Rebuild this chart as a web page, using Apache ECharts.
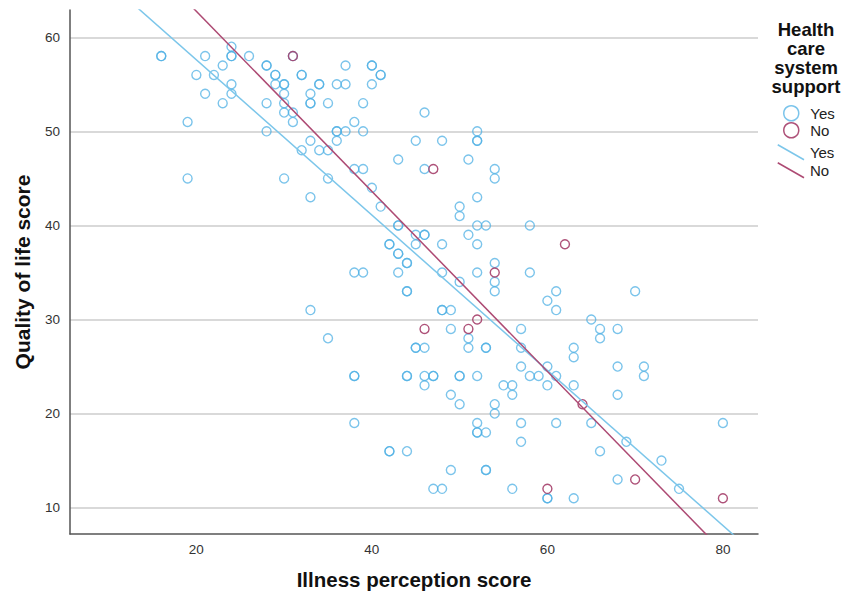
<!DOCTYPE html>
<html><head><meta charset="utf-8">
<script src="https://cdn.jsdelivr.net/npm/echarts@6/dist/echarts.min.js"></script>
<style>html,body{margin:0;padding:0;background:#fff}#c{width:849px;height:595px}</style>
</head><body><div id="c"></div>
<script>
// Illness perception score (x) vs Quality of life score (y)
const yesPoints = [
 [24,59],
 [16,58],[16,58],[21,58],[24,58],[24,58],[26,58],[31,58],
 [23,57],[28,57],[28,57],[37,57],[40,57],[40,57],
 [20,56],[22,56],[29,56],[29,56],[32,56],[32,56],[41,56],[41,56],
 [24,55],[29,55],[30,55],[30,55],[34,55],[34,55],[36,55],[37,55],[40,55],
 [21,54],[24,54],[30,54],[33,54],
 [23,53],[28,53],[30,53],[33,53],[33,53],[35,53],[39,53],
 [30,52],[31,52],[46,52],
 [19,51],[31,51],[38,51],
 [28,50],[36,50],[36,50],[37,50],[39,50],[52,50],
 [33,49],[36,49],[45,49],[48,49],[52,49],[52,49],
 [32,48],[34,48],[35,48],
 [43,47],[51,47],
 [38,46],[39,46],[46,46],[54,46],
 [19,45],[30,45],[35,45],[54,45],
 [40,44],
 [33,43],[52,43],
 [41,42],[50,42],
 [50,41],
 [43,40],[43,40],[52,40],[53,40],[58,40],
 [45,39],[46,39],[46,39],[51,39],
 [42,38],[42,38],[45,38],[48,38],[52,38],
 [43,37],[43,37],
 [44,36],[44,36],[54,36],
 [38,35],[39,35],[43,35],[48,35],[52,35],[58,35],
 [50,34],[54,34],
 [44,33],[44,33],[54,33],[61,33],[70,33],
 [60,32],
 [33,31],[48,31],[48,31],[49,31],[61,31],
 [65,30],
 [49,29],[57,29],[66,29],[68,29],
 [35,28],[51,28],[66,28],
 [45,27],[45,27],[46,27],[51,27],[53,27],[53,27],[57,27],[63,27],
 [63,26],
 [57,25],[60,25],[68,25],[71,25],
 [38,24],[38,24],[44,24],[44,24],[46,24],[47,24],[47,24],[50,24],[50,24],[52,24],[58,24],[59,24],[61,24],[71,24],
 [46,23],[55,23],[56,23],[60,23],[63,23],
 [49,22],[56,22],[68,22],
 [50,21],[54,21],
 [54,20],
 [38,19],[52,19],[57,19],[61,19],[65,19],[80,19],
 [52,18],[52,18],[53,18],
 [57,17],[69,17],
 [42,16],[42,16],[44,16],[66,16],
 [73,15],
 [49,14],[53,14],[53,14],
 [68,13],
 [47,12],[48,12],[56,12],[75,12],
 [60,11],[60,11],[63,11]
];
const noPoints = [
 [31,58],[47,46],[62,38],[54,35],[52,30],[46,29],[51,29],[64,21],[60,12],[70,13],[80,11]
];
// Fit lines: quality = intercept + slope * illness
const fitGroups = ['Yes', 'No'];
const fitIntercepts = [74.1, 81.9];
const fitSlopes = [-0.825, -0.957];
const xTicks = [20, 40, 60, 80];
const yTicks = [10, 20, 30, 40, 50, 60];
const xRange = [5.6, 84];
const yRange = [7.2, 62.9];

const yesMarker = '#4fb0e4';
const noMarker = '#a53f6a';
const yesLine = '#7cc6ea';
const noLine = '#ad4a73';
const FONT = '"Liberation Sans", Arial, sans-serif';

function fitData(i) {
  return [xRange[0], xRange[1]].map(x => [x, fitIntercepts[i] + fitSlopes[i] * x]);
}

const legendBase = {
  orient: 'vertical', itemWidth: 28, itemHeight: 15,
  selectedMode: false,
  textStyle: {fontFamily: FONT, fontSize: 15, color: '#222'},
  formatter: n => n.trim()
};

const chart = echarts.init(document.getElementById('c'), null, {renderer: 'svg'});
chart.setOption({
  animation: false,
  backgroundColor: '#fff',
  grid: {left: 70, right: 91, top: 10, bottom: 61, containLabel: false},
  xAxis: {
    type: 'value', min: xRange[0], max: xRange[1],
    name: 'Illness perception score', nameLocation: 'middle', nameGap: 35,
    nameTextStyle: {fontFamily: FONT, fontSize: 20.5, fontWeight: 'bold', color: '#111'},
    axisLine: {show: true, onZero: false, lineStyle: {color: '#555', width: 1.5}},
    axisTick: {show: false, customValues: xTicks},
    axisLabel: {customValues: xTicks, margin: 8, fontFamily: FONT, fontSize: 13.5, color: '#333'},
    splitLine: {show: false}
  },
  yAxis: {
    type: 'value', min: yRange[0], max: yRange[1],
    name: 'Quality of life score', nameLocation: 'middle', nameGap: 37,
    nameTextStyle: {fontFamily: FONT, fontSize: 21, fontWeight: 'bold', color: '#111'},
    axisLine: {show: true, onZero: false, lineStyle: {color: '#555', width: 1.5}},
    axisTick: {show: false, customValues: yTicks},
    axisLabel: {customValues: yTicks, margin: 10, fontFamily: FONT, fontSize: 13.5, color: '#333'},
    splitLine: {show: true, lineStyle: {color: '#cccccc', width: 1.5}}
  },
  graphic: [{
    type: 'text', x: 806, y: 20,
    style: {text: 'Health\ncare\nsystem\nsupport', align: 'center', verticalAlign: 'top',
      font: 'bold 18.5px ' + FONT, lineHeight: 19, fill: '#111'}
  }],
  legend: [
    Object.assign({}, legendBase, {
      left: 778, top: 100, itemGap: 0.5,
      data: [
        {name: 'Yes', icon: 'circle', itemStyle: {color: 'rgba(0,0,0,0)', borderColor: yesMarker, borderWidth: 1.5}},
        {name: 'No', icon: 'circle', itemStyle: {color: 'rgba(0,0,0,0)', borderColor: noMarker, borderWidth: 1.5}}
      ]
    }),
    Object.assign({}, legendBase, {
      left: 772, top: 139, itemGap: 1.5,
      data: [
        {name: 'Yes ', icon: 'path://M0,0L28,16', itemStyle: {color: 'rgba(0,0,0,0)', borderColor: yesLine, borderWidth: 1.5}},
        {name: 'No ', icon: 'path://M0,0L28,16', itemStyle: {color: 'rgba(0,0,0,0)', borderColor: noLine, borderWidth: 1.5}}
      ]
    })
  ],
  series: [
    {
      name: 'Yes', type: 'scatter', data: yesPoints, symbol: 'circle', symbolSize: 9,
      itemStyle: {color: 'rgba(0,0,0,0)', borderColor: yesMarker, borderWidth: 1.4, opacity: 0.75}, z: 3
    },
    {
      name: 'No', type: 'scatter', data: noPoints, symbol: 'circle', symbolSize: 9,
      itemStyle: {color: 'rgba(0,0,0,0)', borderColor: noMarker, borderWidth: 1.4, opacity: 0.9}, z: 4
    },
    {
      name: 'Yes ', type: 'line', data: fitData(0), symbol: 'none', clip: true,
      lineStyle: {color: yesLine, width: 1.5}, itemStyle: {color: yesLine}, z: 5
    },
    {
      name: 'No ', type: 'line', data: fitData(1), symbol: 'none', clip: true,
      lineStyle: {color: noLine, width: 1.5}, itemStyle: {color: noLine}, z: 6
    }
  ]
});
</script></body></html>
